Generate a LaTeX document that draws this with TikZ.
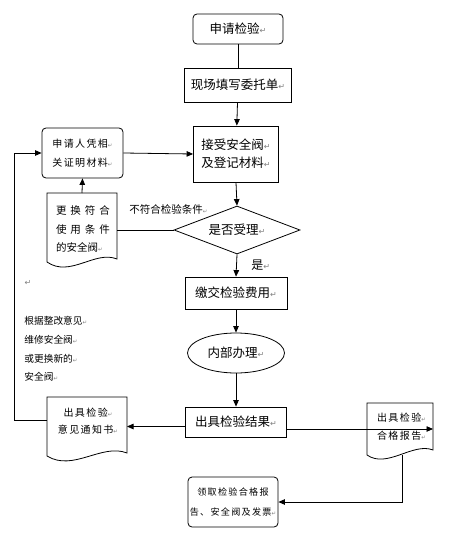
\documentclass[tikz,border=0pt]{standalone}
\usepackage{fontspec}
\setmainfont{Noto Sans CJK SC}
\newfontfamily\cjksp[LetterSpace=14]{Noto Sans CJK SC}
\newfontfamily\djv{DejaVu Sans}
\usetikzlibrary{shapes.geometric,arrows.meta}
\newcommand\rmk{{\djv\color{gray}\fontsize{8}{8}\selectfont ↵}}
\newcommand\smk{{\djv\color{gray}\fontsize{5.5}{5.5}\selectfont ↵}}
\begin{document}
\begin{tikzpicture}[x=1pt,y=-1pt,
 line width=0.8pt,
 arr/.style={-{Triangle[length=6.5pt,width=5.5pt]}},
 big/.style={font=\fontsize{12.5}{16}\selectfont},
 small/.style={font=\cjksp\fontsize{10}{19}\selectfont},
 box/.style={draw,rectangle,inner sep=0pt,align=center,big},
 rbox/.style={box,rounded corners=4pt},
 shapeonly/.style={inner sep=0pt,outer sep=0pt},
]
\useasboundingbox[fill=white] (0,0) rectangle (450,540);

% main column
\node[rbox,minimum width=90pt,minimum height=30pt] (n1) at (238,29) {申请检验\rmk};
\node[box,minimum width=107pt,minimum height=34pt] (n2) at (238,85) {现场填写委托单\rmk};
\node[box,minimum width=85pt,minimum height=56pt] (n3) at (236,154) {接受安全阀\rmk\\[2pt]及登记材料\rmk};
\node[draw,diamond,aspect=2.6,inner sep=0pt,minimum width=126pt,minimum height=48pt,big] (dia) at (237,230) {是否受理\rmk};
\node[box,minimum width=102pt,minimum height=32pt] (n5) at (236,293) {缴交检验费用\rmk};
\node[draw,ellipse,minimum width=97pt,minimum height=40pt,inner sep=0pt,big] (ell) at (236,353) {内部办理\rmk};
\node[box,minimum width=101pt,minimum height=30pt] (n7) at (236,422) {出具检验结果\rmk};
\node[rbox,minimum width=90pt,minimum height=50pt,font=\cjksp\fontsize{9.1}{20}\selectfont] (fin) at (233,502) {领取检验合格报\\告、安全阀及发票\smk};

% left boxes
\node[rbox,minimum width=81pt,minimum height=50pt,small] (r1) at (82.5,153) {申请人凭相\smk\\关证明材料\smk};

\node[shapeonly,minimum width=70pt,minimum height=69pt] (doc1) at (82,227.5) {};
\draw (doc1.south west) -- (doc1.north west) -- (doc1.north east) -- ([yshift=3pt]doc1.south east)
  .. controls +(-22,-9) and +(23,16) .. (doc1.south west) -- cycle;
\node[inner sep=0pt,align=left,font=\fontsize{10.5}{18.5}\selectfont] (t1) at (83,229)
  {\makebox[54pt][s]{更\hfill 换\hfill 符\hfill 合}\\\makebox[54pt][s]{使\hfill 用\hfill 条\hfill 件}\\\makebox[54pt][l]{的安全阀\smk}};

\node[shapeonly,minimum width=80pt,minimum height=59pt] (doc2) at (87,426.5) {};
\draw (doc2.south west) -- (doc2.north west) -- (doc2.north east) -- ([yshift=3pt]doc2.south east)
  .. controls +(-25,-10) and +(26,16) .. (doc2.south west) -- cycle;
\node[inner sep=0pt,align=center,font=\cjksp\fontsize{10}{17}\selectfont] (t2) at (88,421.5) {出具检验\smk\\意见通知书\smk};

% right document
\node[shapeonly,minimum width=66pt,minimum height=52pt] (doc3) at (400,429) {};
\draw (doc3.south west) -- (doc3.north west) -- (doc3.north east) -- ([yshift=5pt]doc3.south east)
  .. controls +(-20,-8) and +(20,14) .. (doc3.south west) -- cycle;
\node[inner sep=0pt,align=center,font=\cjksp\fontsize{10}{18}\selectfont] (t3) at (401.5,427) {出具检验\smk\\合格报告\smk};

% labels
\node[anchor=west,inner sep=0pt,font=\fontsize{10.5}{12}\selectfont] (lab1) at (129,209) {不符合检验条件\smk};
\node[anchor=west,inner sep=0pt,font=\fontsize{12}{14}\selectfont] (lab2) at (251,265) {是\rmk};
\node[inner sep=0pt] (mk) at (28,283) {\rmk};
\node[anchor=north west,inner sep=0pt,align=left,font=\fontsize{9.7}{18.7}\selectfont] (lab3) at (24,316)
  {根据整改意见\smk\\维修安全阀\smk\\或更换新的\smk\\安全阀\smk};

% connectors
\draw (n1) -- (n2);
\draw[arr] (n2) -- (n3);
\draw[arr] (n3.south) -- (dia.north);
\draw[arr] (dia.south) -- (n5.north);
\draw[arr] (n5) -- (ell);
\draw[arr] (ell) -- (n7);
\draw (dia.west) -- (dia.west -| doc1.east);
\draw[arr] (doc1.north) -- (r1.south);
\draw[arr] (r1.east) -- (n3.west);
\draw[arr] (n7.west |- doc2.east) -- (doc2.east);
\draw[arr] (n7.east |- doc3.east) -- (doc3.east);
\coordinate (lc) at (14,420);
\draw[arr] (doc2.west |- lc) -- (lc) |- (r1.west);
\coordinate (rs) at (402,455);
\draw[arr] (rs) |- (fin.east);
\end{tikzpicture}
\end{document}
